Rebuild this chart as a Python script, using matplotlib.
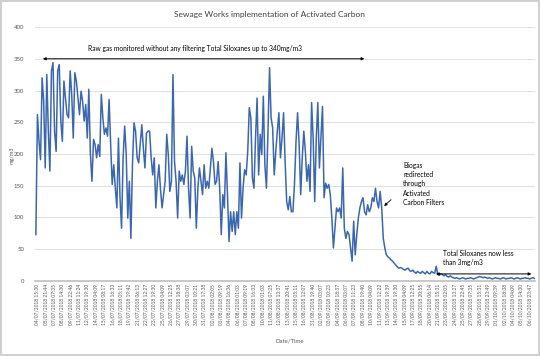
import matplotlib.pyplot as plt
import numpy as np

raw_part1 = [73, 262, 220, 191, 320, 283, 178, 325, 236, 173, 331, 344, 236, 204, 331, 341,
             252, 220, 315, 288, 262, 257, 331, 294, 225, 328, 315, 288, 262, 299, 283, 252,
             278, 225, 302, 199, 157, 223, 215, 194, 215, 196, 294, 257, 231, 241, 228, 286,
             215, 152, 183, 146, 115, 225, 131, 83, 194, 244, 199, 99, 157, 67, 183, 249,
             236, 194, 186, 215, 246, 209, 178, 233, 236, 236, 194, 167, 194, 115, 157, 183,
             144, 115, 136, 157, 231, 199, 141, 157, 325, 188, 157, 99, 173, 157, 167, 152,
             173, 228, 146, 99, 212, 173, 162, 83]
raw_part2 = [146, 178, 157, 136, 183, 146, 157, 146, 178, 209, 188, 152, 157, 188, 146, 73,
             136, 115, 202, 136, 62, 109, 78, 109, 73, 109, 83, 186, 99, 146, 175, 167,
             204, 273, 257, 162, 146, 225, 288, 167, 231, 199, 291, 183, 146, 236, 336, 257,
             241, 167, 204, 236, 265, 194, 225, 265, 188, 125, 112, 133, 109, 109, 152, 220,
             265, 215, 136, 194, 236, 204, 157, 183, 141, 281, 225, 125, 225, 281, 178, 225,
             275, 131, 154, 146, 152, 136, 99, 52, 83, 115, 109, 115, 99, 178, 83, 67,
             78, 73, 52, 31, 94, 41, 73, 99, 115, 125, 131, 109, 104, 120, 109, 115, 131]
filtered_part = [125, 146, 125, 115, 141, 115, 67, 52, 41, 38, 36, 33, 31, 28, 25, 22,
                 20, 21, 20, 18, 17, 19, 20, 16, 15, 17, 14, 12, 15, 13, 12, 15, 13, 11,
                 15, 12, 11, 15, 13, 12, 23, 10, 9, 11, 10, 8, 10, 7, 6, 8, 6, 5,
                 4, 5, 4, 3, 4, 5, 4, 3, 4, 4, 5, 4, 3, 4, 5, 6, 7, 6,
                 5, 6, 5, 4, 5, 4, 3, 4, 5, 4, 4, 3, 4, 5, 4, 3, 4, 4,
                 5, 4, 3, 4, 5, 4, 3, 4, 4, 5, 4, 4, 3, 4, 5, 4]
siloxanes = raw_part1 + raw_part2 + filtered_part

date_labels = [
    "04/07/2018 15:30", "05/07/2018 21:44", "07/07/2018 07:35", "08/07/2018 14:30",
    "09/07/2018 22:46", "11/07/2018 11:24", "12/07/2018 19:30", "14/07/2018 04:09",
    "15/07/2018 08:17", "16/07/2018 16:33", "18/07/2018 05:11", "19/07/2018 19:42",
    "21/07/2018 06:13", "22/07/2018 12:27", "23/07/2018 19:30", "25/07/2018 04:09",
    "26/07/2018 12:25", "27/07/2018 18:38", "29/07/2018 03:07", "30/07/2018 10:21",
    "31/07/2018 17:38", "02/08/2018 02:05", "03/08/2018 09:19", "04/08/2018 16:36",
    "06/08/2018 01:03", "07/08/2018 09:19", "08/08/2018 16:33", "10/08/2018 01:03",
    "11/08/2018 07:25", "12/08/2018 13:37", "13/08/2018 20:41", "15/08/2018 05:11",
    "16/08/2018 12:07", "31/08/2018 19:40", "02/09/2018 03:07", "03/09/2018 10:23",
    "04/09/2018 18:37", "06/09/2018 03:07", "07/09/2018 11:23", "08/09/2018 19:40",
    "10/09/2018 04:09", "11/09/2018 12:22", "13/09/2018 19:39", "14/09/2018 19:30",
    "15/09/2018 04:09", "17/09/2018 12:25", "18/09/2018 20:55", "20/09/2018 06:14",
    "21/09/2018 15:31", "23/09/2018 02:05", "24/09/2018 13:27", "25/09/2018 22:45",
    "27/09/2018 07:35", "28/09/2018 15:31", "29/09/2018 23:49", "01/10/2018 09:39",
    "02/10/2018 18:38", "04/10/2018 04:09", "05/10/2018 14:30", "06/10/2018 23:47",
]

plt.rcParams['font.family'] = ['Lato', 'DejaVu Sans']

fig = plt.figure(figsize=(5.4, 3.56), dpi=100)
fig.patch.set_edgecolor('#d0d0d0')
fig.patch.set_linewidth(1.5)
ax = fig.add_axes([0.065, 0.211, 0.926, 0.713])

idx = np.arange(len(siloxanes))
ax.plot(idx, siloxanes, color='#3b67b0', lw=1.1)

ax.set_xlim(-0.5, len(siloxanes) - 0.5)
ax.set_ylim(0, 400)
ax.set_yticks(range(0, 401, 50))
ax.tick_params(axis='y', labelsize=4.3, colors='#595959', length=0, pad=8)
ax.set_xticks(np.linspace(1, len(siloxanes) - 4, len(date_labels)))
ax.set_xticklabels(date_labels, rotation=90, fontsize=3.5, color='#595959')
ax.tick_params(axis='x', length=0, pad=2)
ax.grid(axis='y', color='#d9d9d9', lw=0.6)
ax.set_axisbelow(True)
for s in ['top', 'right', 'left']:
    ax.spines[s].set_visible(False)
ax.spines['bottom'].set_color('#bfbfbf')
ax.spines['bottom'].set_linewidth(1.2)

fig.text(0.5, 0.96, "Sewage Works implementation of Activated Carbon", ha='center',
         va='center', fontsize=6, color='#404040')
fig.text(0.537, 0.042, "Date/Time", ha='center', va='center', fontsize=4.3, color='#595959')
fig.text(0.022, 0.565, "mg/m3", ha='center', va='center', rotation=90, fontsize=4,
         color='#595959')

# annotations
ax.text(0.32, 361, "Raw gas monitored without any filtering Total Siloxanes up to 340mg/m3",
        transform=ax.get_yaxis_transform(), ha='center', va='bottom', fontsize=4.8)
ax.annotate('', xy=(0.664, 350), xytext=(0.01, 350), xycoords=('axes fraction', 'data'),
            arrowprops=dict(arrowstyle='<|-|>', color='black', lw=0.7, mutation_scale=4))
ax.text(0.736, 187, "Biogas\nredirected\nthrough\nActivated\nCarbon Filters",
        transform=ax.get_yaxis_transform(), ha='left', va='top', fontsize=4.8, linespacing=1.35)
ax.annotate('', xy=(0.694, 115), xytext=(0.716, 131), xycoords=('axes fraction', 'data'),
            arrowprops=dict(arrowstyle='-|>', color='black', lw=0.6, mutation_scale=4))
ax.text(0.816, 49, "Total Siloxanes now less\nthan 3mg/m3", transform=ax.get_yaxis_transform(),
        ha='left', va='top', fontsize=4.8, linespacing=1.3)
ax.annotate('', xy=(0.998, 11), xytext=(0.796, 11), xycoords=('axes fraction', 'data'),
            arrowprops=dict(arrowstyle='<|-|>', color='black', lw=0.7, mutation_scale=4))

fig.savefig('out.png', dpi=100)
